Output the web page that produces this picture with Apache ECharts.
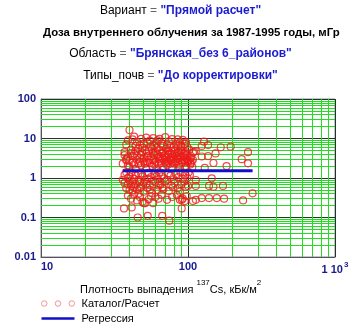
<!DOCTYPE html>
<html><head><meta charset="utf-8">
<script src="https://cdn.jsdelivr.net/npm/echarts@6/dist/echarts.min.js"></script>
<style>html,body{margin:0;padding:0;background:#fff}#c{width:361px;height:329px}</style>
</head><body><div id="c"></div>
<script>
// ---- data ----
const catalogX = [
 40,42,45,48,52,55,58,62,66,70,74,78,83,88,92,38,44,50,56,61,68,72,80,86,95,99,
 37,39,41,43,46,47,49,51,53,54,57,59,60,63,64,67,69,71,73,75,77,79,82,84,87,90,93,96,98,102,105,110,
 36,38,40,42,44,45,48,50,52,55,57,58,61,63,65,68,70,72,75,78,81,85,88,91,94,97,100,104,107,
 37,39,41,43,46,49,51,54,56,59,62,64,66,69,73,76,80,83,86,89,92,96,99,
 37,38,40,41,42,44,45,47,48,50,52,53,55,57,60,62,65,67,70,74,77,81,85,90,94,97,
 39,41,43,45,47,49,51,56,58,63,66,72,78,84,
 36.7,41.4,45.5,53.2,66.8,74.6,50,
 128.5,137,124,167,195,256,113,108,154,137,124,232,149,256,183,130,113,145,100,113,139,149,173,275,237,176,157,139,124,113,108,90.6,90.6,
 101,103,106,108,104,101,103,
 38,40,42,44,46,48,50,52,54,56,58,60,62,64,66,68,70,72,74,76,78,80,82,84,86,88,90,92,94,97,99,
 37,41,43,47,49,53,57,61,65,69,73,77,81,85,89,93,39,45,51,59,67,71,79,87,95,
 36,38,39,40,42,43,44,46,47,48,50,53,55,58,61,63,68,72,79,88,92,95,98,88,60,54,46,40,
 39,43,47,53,59,64,76,85,90,97
];
const catalogY = [
 16.4,9.5,8.2,9.8,10.5,8.8,10.2,9.0,7.5,10.8,8.5,9.6,7.2,8.0,9.2,7.0,6.5,7.4,6.2,7.8,6.4,6.9,6.0,6.6,7.3,6.1,
 4.5,3.4,5.2,4.1,5.6,3.2,4.4,5.1,3.6,4.8,5.4,3.9,4.6,3.3,5.0,4.2,3.7,5.5,4.0,3.1,4.9,3.5,5.3,4.3,3.8,5.0,3.4,4.5,3.9,5.2,3.3,4.6,
 2.3,2.8,1.9,2.5,1.7,2.9,2.1,2.6,1.8,2.4,2.0,2.8,1.7,2.2,2.7,1.9,2.5,2.1,2.8,1.8,2.3,2.6,1.9,2.4,2.9,2.0,2.5,2.2,1.9,
 1.2,1.0,1.4,0.95,1.3,1.1,0.9,1.35,1.05,1.25,0.92,1.4,1.1,0.97,1.3,1.15,0.93,1.25,1.05,1.4,0.95,1.2,1.0,
 0.75,0.55,0.85,0.62,0.48,0.7,0.52,0.8,0.6,0.45,0.72,0.56,0.66,0.42,0.78,0.5,0.68,0.58,0.82,0.47,0.64,0.74,0.55,0.69,0.8,0.6,
 0.36,0.3,0.38,0.27,0.33,0.25,0.23,0.35,0.23,0.3,0.38,0.28,0.33,0.37,
 0.17,0.18,0.10,0.11,0.11,0.083,0.23,
 8.3,6.8,6.5,6.0,6.2,4.5,4.8,4.4,4.2,3.6,3.5,3.0,2.4,2.35,2.0,1.8,0.89,0.98,0.63,0.63,0.63,0.60,0.63,0.41,0.27,0.30,0.31,0.31,0.31,0.28,0.26,0.28,0.17,
 2.8,3.1,2.6,2.9,2.4,1.4,1.2,
 3.0,2.7,3.6,4.8,2.3,3.8,3.1,4.2,2.9,3.5,4.4,2.6,3.9,3.0,2.4,4.6,3.3,2.7,3.9,2.3,4.1,3.0,2.6,3.5,4.5,2.9,3.6,2.5,4.1,3.2,2.7,
 3.8,4.3,2.2,2.6,5.8,2.5,3.0,5.9,3.6,2.9,5.0,2.9,4.0,3.1,4.8,3.7,2.1,3.7,2.3,2.2,3.2,2.3,2.5,2.2,2.7,
 0.9,1.4,0.7,1.1,0.8,0.6,1.2,0.9,0.55,1.3,0.75,0.95,0.5,0.85,1.1,0.65,0.52,0.9,0.58,0.45,0.3,0.26,0.35,0.28,0.33,0.29,0.4,0.5,
 9.0,11.2,6.8,7.9,6.6,9.8,6.5,9.5,6.4,8.0
];
const regressionX = [36, 275];
const regressionY = [1.53, 1.53];
const xTickLabels = ['10', '100', '{n|1 10}{s|3}'];
const yTickLabels = ['0.01', '0.1', '1', '10', '100'];
const xMinorGrid = [20,30,40,50,60,70,80,90,200,300,400,500,600,700,800,900];
const yMinorGrid = [0.02,0.03,0.04,0.05,0.06,0.07,0.08,0.09,0.2,0.3,0.4,0.5,0.6,0.7,0.8,0.9,2,3,4,5,6,7,8,9,20,30,40,50,60,70,80,90];

// ---- chart ----
const chart = echarts.init(document.getElementById('c'), null, {renderer: 'canvas'});
const FONT = 'Liberation Sans, Arial, sans-serif';
const scatterData = catalogX.map((x, i) => [x, catalogY[i]]);
const regData = regressionX.map((x, i) => [x, regressionY[i]]);
const minorGreen = '#22dd22';
const blue = '#1b1bd0';
function rt(extra) { return Object.assign({fontFamily: FONT, fontSize: 12, color: '#000', fontWeight: 'normal'}, extra); }
const titleRich = {
  k: rt({}),
  e: rt({color: '#666'}),
  v: rt({color: blue, fontWeight: 'bold'}),
  b: rt({fontWeight: 'bold', fontSize: 11.4})
};
const tStyle = {fontWeight: 'normal', fontFamily: FONT, fontSize: 12, rich: titleRich};
const option = {
  animation: false,
  backgroundColor: '#fff',
  title: [
    {text: '{k|Вариант} {e|=} {v|"Прямой расчет"}', left: 'center', top: 5, padding: 0, textStyle: tStyle},
    {text: '{b|Доза внутреннего облучения за 1987-1995 годы, мГр}', left: 43, top: 27, padding: 0, textStyle: tStyle},
    {text: '{k|Область} {e|=} {v|"Брянская_без 6_районов"}', left: 'center', top: 48, padding: 0, textStyle: tStyle},
    {text: '{k|Типы_почв} {e|=} {v|"До корректировки"}', left: 'center', top: 70, padding: 0, textStyle: tStyle}
  ],
  grid: {left: 41, right: 26, top: 99, bottom: 72, show: true, borderColor: '#8a80a8', borderWidth: 1, backgroundColor: 'transparent', containLabel: false},
  xAxis: {
    type: 'log', logBase: 10, min: 10, max: 1000,
    axisLine: {show: true, onZero: false, lineStyle: {color: '#555', width: 1}},
    axisTick: {show: false},
    splitLine: {show: true, lineStyle: {color: '#1e3a1e', width: 1}},
    axisLabel: {
      margin: 4, color: '#1a1a8c', fontWeight: 'bold', fontFamily: FONT, fontSize: 11, alignMinLabel: 'left',
      formatter: (v, i) => xTickLabels[i],
      rich: {n: {color: '#1a1a8c', fontWeight: 'bold', fontFamily: FONT, fontSize: 11, verticalAlign: 'bottom'},
             s: {color: '#1a1a8c', fontWeight: 'bold', fontFamily: FONT, fontSize: 8, verticalAlign: 'top', padding: [0,0,6,1]}}
    }
  },
  yAxis: {
    type: 'log', logBase: 10, min: 0.01, max: 100,
    axisLine: {show: true, onZero: false, lineStyle: {color: '#555', width: 1}},
    axisTick: {show: false},
    splitLine: {show: true, lineStyle: {color: '#1e3a1e', width: 1}},
    axisLabel: {margin: 5, color: '#1a1a8c', fontWeight: 'bold', fontFamily: FONT, fontSize: 11,
      formatter: (v, i) => yTickLabels[i]}
  },
  legend: {
    orient: 'vertical', left: 41, top: 297, padding: 0, height: 32, itemGap: 2, itemWidth: 33, itemHeight: 6,
    textStyle: {fontFamily: FONT, fontSize: 11, color: '#000', padding: [0,0,0,2], lineHeight: 13},
    data: [
      {name: 'Каталог/Расчет',
       icon: 'path://M4,3a2.2,2.2 0 1,0 4.4,0a2.2,2.2 0 1,0 -4.4,0ZM15,3a2.2,2.2 0 1,0 4.4,0a2.2,2.2 0 1,0 -4.4,0ZM26,3a2.2,2.2 0 1,0 4.4,0a2.2,2.2 0 1,0 -4.4,0Z',
       itemStyle: {color: 'rgba(255,255,255,0)', borderColor: '#f07a7a', borderWidth: 1}},
      {name: 'Регрессия', icon: 'path://M0,0H33V2.4H0Z', itemStyle: {color: '#1010c8', borderWidth: 0}}
    ]
  },
  graphic: [
    {type: 'text', left: 80, top: 279, style: {
      rich: {
        t: {fontFamily: FONT, fontSize: 11, fill: '#000', verticalAlign: 'bottom', lineHeight: 16},
        s: {fontFamily: FONT, fontSize: 8, fill: '#000', verticalAlign: 'top', lineHeight: 16}
      },
      text: '{t|Плотность выпадения }{s|137}{t|Cs, кБк/м}{s|2}'
    }}
  ],
  series: [
    {name: 'Каталог/Расчет', type: 'scatter', data: scatterData, symbol: 'circle', symbolSize: 7,
     itemStyle: {color: 'rgba(255,255,255,0)', borderColor: '#ee1c1c', borderWidth: 1.2}, z: 3,
     markLine: {silent: true, symbol: 'none', label: {show: false}, animation: false,
       lineStyle: {color: minorGreen, width: 1, type: 'solid'},
       data: xMinorGrid.map(v => ({xAxis: v})).concat(yMinorGrid.map(v => ({yAxis: v}))),
       z: 1}
    },
    {name: 'Регрессия', type: 'line', data: regData, symbol: 'none', showSymbol: false,
     lineStyle: {color: '#1010c8', width: 3}, itemStyle: {color: '#1010c8'}, z: 4}
  ]
};
chart.setOption(option);
</script>
</body></html>
